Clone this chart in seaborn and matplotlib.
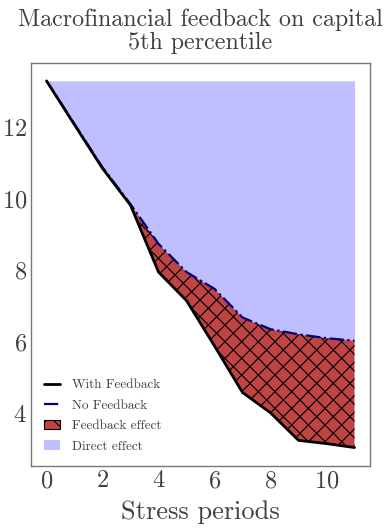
import numpy as np
import pandas as pd
import matplotlib
matplotlib.use("Agg")
import matplotlib.pyplot as plt
import seaborn as sns
from matplotlib.lines import Line2D
from matplotlib.patches import Patch

# Capital ratio path under stress, 5th percentile
periods = [0, 1, 2, 3, 4, 5, 6, 7, 8, 9, 10, 11]
with_feedback = [13.3, 12.07, 10.85, 9.82, 7.95, 7.15, 5.88, 4.58, 4.01, 3.24, 3.15, 3.04]
no_feedback = [13.3, 12.09, 10.88, 9.85, 8.74, 7.95, 7.48, 6.68, 6.35, 6.21, 6.10, 6.03]

x_ticks = [0, 2, 4, 6, 8, 10]
y_ticks = [4, 6, 8, 10, 12]
legend_labels = ["With Feedback", "No Feedback", "Feedback effect", "Direct effect"]

sns.set_style("white")
plt.rcParams["font.family"] = "serif"
plt.rcParams["font.serif"] = ["cmr10"]
plt.rcParams["axes.formatter.use_mathtext"] = True
plt.rcParams["mathtext.fontset"] = "cm"
plt.rcParams["hatch.linewidth"] = 0.8

text_col = "#404040"
red = "#bf4444"

df = pd.DataFrame({"period": periods, "with": with_feedback, "without": no_feedback})
start = df["without"].iloc[0]

fig = plt.figure(figsize=(3.89, 5.30), dpi=100)
ax = fig.add_axes([0.080, 0.121, 0.871, 0.761])

# direct effect: drop of the no-feedback path from the starting level
ax.fill_between(df["period"], df["without"], start, color="blue", alpha=0.25, lw=0)
# feedback effect: extra drop caused by macrofinancial feedback
ax.fill_between(df["period"], df["with"], df["without"], facecolor=red,
                edgecolor="black", hatch="xx", lw=0)

sns.lineplot(data=df, x="period", y="without", ax=ax, color="navy", lw=1.6,
             linestyle="-.")
sns.lineplot(data=df, x="period", y="with", ax=ax, color="black", lw=2)

ax.set_xticks(x_ticks)
ax.set_yticks(y_ticks)
ax.tick_params(labelsize=17.5, colors=text_col, length=0, pad=3)
ax.set_xlabel("Stress periods", fontsize=19, color=text_col, labelpad=6)
ax.set_ylabel("")
ax.set_title("Macrofinancial feedback on capital\n5th percentile",
             fontsize=17.3, color=text_col, pad=10, linespacing=1.05)
for sp in ax.spines.values():
    sp.set_color("#777777")
    sp.set_linewidth(1.0)

handles = [
    Line2D([], [], color="black", lw=2),
    Line2D([], [], color="navy", lw=1.6, linestyle="-."),
    Patch(facecolor=red, edgecolor="black", hatch="x", lw=0.8),
    Patch(facecolor="blue", alpha=0.25, lw=0),
]
leg = ax.legend(handles, legend_labels, loc="lower left", frameon=False,
                fontsize=9.5, handlelength=1.2, handletextpad=0.9,
                labelspacing=0.62, borderaxespad=0.6)
for t in leg.get_texts():
    t.set_color(text_col)

fig.savefig("out.png", dpi=100)
